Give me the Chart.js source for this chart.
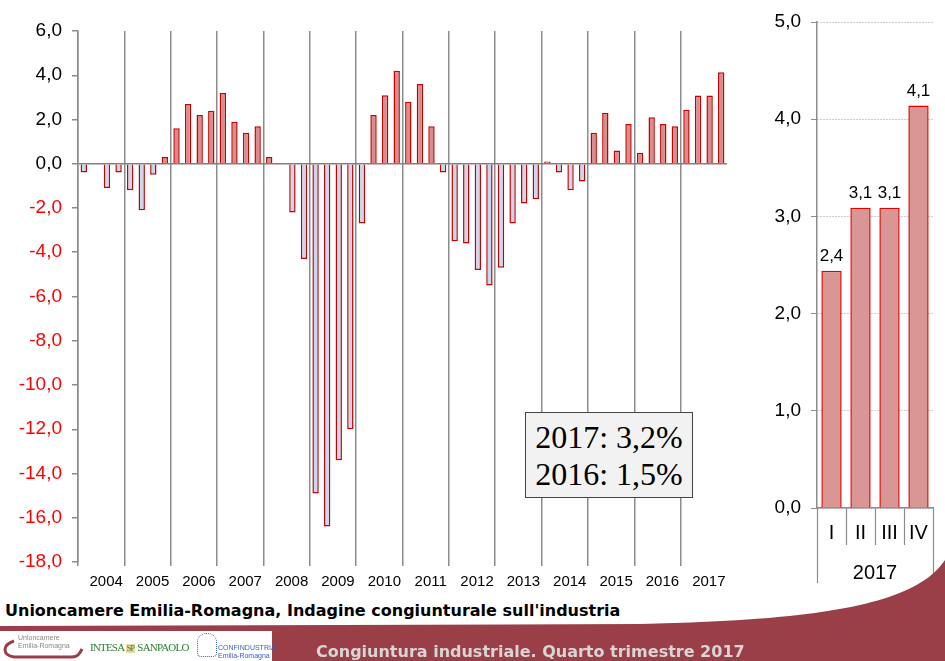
<!DOCTYPE html>
<html>
<head>
<meta charset="utf-8">
<script src="https://cdn.jsdelivr.net/npm/chart.js@4.4.0/dist/chart.umd.min.js"></script>
<style>
body { margin: 0; width: 945px; height: 661px; background: #fff; position: relative; overflow: hidden; font-family: Arial, "Liberation Sans", sans-serif; }
#trend { position: absolute; left: 0; top: 0; }
#quarters { position: absolute; left: 740px; top: 0; }
#avgBox { position: absolute; left: 525px; top: 412px; width: 168px; height: 86px; background: #f2f2f2; border: 1.5px solid #444;
  font-family: "Liberation Serif", "Times New Roman", serif; font-size: 32px; line-height: 37px; text-align: center; padding-top: 6px; box-sizing: border-box; color: #000; }
#source { position: absolute; left: 5px; top: 601px; font-family: "DejaVu Sans", Verdana, sans-serif; font-weight: bold; font-size: 16px; color: #000; white-space: nowrap; }
#band { position: absolute; left: 0; top: 0; }
#logos { position: absolute; left: 0; top: 631px; width: 272px; height: 30px; background: #fff; }
.logo { position: absolute; white-space: nowrap; }
#footerTitle { position: absolute; left: 316px; top: 642px; font-family: "DejaVu Sans", Verdana, sans-serif; font-weight: bold; font-size: 16px; color: #d6d6d6; white-space: nowrap; }
</style>
</head>
<body>
<canvas id="trend" width="740" height="600"></canvas>
<canvas id="quarters" width="205" height="600"></canvas>
<div id="avgBox">2017: 3,2%<br>2016: 1,5%</div>
<div id="source">Unioncamere Emilia-Romagna, Indagine congiunturale sull'industria</div>
<svg id="band" width="945" height="661">
  <path d="M0,626 L640,624 C820,620 915,605 945,560 L945,661 L0,661 Z" fill="#9a3f48"/>
</svg>
<div id="logos">
  <svg width="90" height="30" style="position:absolute;left:0;top:0">
    <path d="M14,10 C2,14 2,24 14,26 L72,26 C78,26 80,22 82,18" fill="none" stroke="#9a3f48" stroke-width="3"/>
  </svg>
  <div class="logo" style="left:18px;top:3px;font-size:7px;line-height:8px;color:#888">Unioncamere<br>Emilia-Romagna</div>
  <div class="logo" style="left:90px;top:10px;font-family:'Liberation Serif',serif;font-size:11px;color:#2e7d32;letter-spacing:-0.8px">INTESA <span style="background:#e8d9a0;color:#2e7d32;font-size:8px">&nbsp;SP&nbsp;</span> SANPAOLO</div>
  <div class="logo" style="left:197px;top:2px;width:18px;height:22px;border-radius:9px 9px 4px 4px;border:1px dotted #3a5fbf"></div>
  <div class="logo" style="left:218px;top:13px;font-size:7px;line-height:8px;color:#3a5fbf">CONFINDUSTRIA<br>Emilia-Romagna</div>
</div>
<div id="footerTitle">Congiuntura industriale. Quarto trimestre 2017</div>

<script>
// tendenza della produzione industriale, variazione % sullo stesso trimestre dell'anno precedente
const years = ['2004', '2005', '2006', '2007', '2008', '2009', '2010',
               '2011', '2012', '2013', '2014', '2015', '2016', '2017'];
const quarters = ['I', 'II', 'III', 'IV'];

const production = [
    -0.4, -0.05, -1.1, -0.4,    // 2004
    -1.2, -2.1, -0.5, 0.3,      // 2005
    1.6, 2.7, 2.2, 2.4,         // 2006
    3.2, 1.9, 1.4, 1.7,         // 2007
    0.3, -0.05, -2.2, -4.3,     // 2008
    -14.9, -16.4, -13.4, -12.0, // 2009
    -2.7, 2.2, 3.1, 4.2,        // 2010
    2.8, 3.6, 1.7, -0.4,        // 2011
    -3.5, -3.6, -4.8, -5.5,     // 2012
    -4.7, -2.7, -1.8, -1.6,     // 2013
    0.1, -0.4, -1.2, -0.8,      // 2014
    1.4, 2.3, 0.6, 1.8,         // 2015
    0.5, 2.1, 1.8, 1.7,         // 2016
    2.44, 3.09, 3.09, 4.14      // 2017
];
const production2017 = [2.44, 3.09, 3.09, 4.14];

const trendTicks = { min: -18, max: 6, step: 2 };
const quarterTicks = { min: 0, max: 5, step: 1 };

function formatIt(v) {
    return Number(v).toFixed(1).replace('.', ',');
}

const quarterLabels = [];
years.forEach(y => quarters.forEach(q => quarterLabels.push(q + ' ' + y)));

new Chart(document.getElementById('trend'), {
    type: 'bar',
    data: {
        labels: quarterLabels,
        datasets: [{
            data: production,
            backgroundColor: production.map(v => v < 0 ? '#c9d8ef' : '#d98c8c'),
            borderColor: '#c80000',
            borderWidth: 1.5,
            barPercentage: 0.55,
            categoryPercentage: 1
        }]
    },
    options: {
        responsive: false,
        animation: false,
        layout: { padding: { top: 31, right: 13, left: 0, bottom: 0 } },
        plugins: { legend: { display: false }, tooltip: { enabled: false } },
        scales: {
            x: {
                type: 'category',
                offset: true,
                ticks: { display: false },
                border: { display: false },
                grid: {
                    offset: true,
                    color: ctx => ctx.index % 4 === 0 ? '#8c8c8c' : 'transparent',
                    tickColor: ctx => ctx.index % 4 === 0 ? '#8c8c8c' : 'transparent',
                    lineWidth: 1.5,
                    tickLength: 4
                },
                afterFit: s => { s.height = 4; }
            },
            years: {
                axis: 'x',
                type: 'category',
                position: 'bottom',
                labels: years,
                offset: true,
                border: { display: false },
                grid: { display: false, drawTicks: false },
                ticks: {
                    padding: 7,
                    labelOffset: 5,
                    maxRotation: 0,
                    autoSkip: false,
                    color: '#000',
                    font: { family: '"Liberation Sans Narrow", "Arial Narrow", Arial', size: 15 }
                },
                afterFit: s => { s.height = 34; }
            },
            y: {
                min: trendTicks.min,
                max: trendTicks.max,
                border: { color: '#8c8c8c', width: 1.5 },
                grid: {
                    color: ctx => ctx.tick && ctx.tick.value === 0 ? '#808080' : 'transparent',
                    tickColor: '#8c8c8c',
                    lineWidth: 1.5,
                    tickLength: 6
                },
                ticks: {
                    stepSize: trendTicks.step,
                    padding: 10,
                    color: ctx => ctx.tick.value < 0 ? '#ff0000' : '#000',
                    font: { family: 'Arial, "Liberation Sans"', size: 19 },
                    callback: v => formatIt(v)
                },
                afterFit: s => { s.width = 78; }
            }
        }
    }
});

// etichette dei valori sopra le barre
const valueLabels = {
    id: 'valueLabels',
    afterDatasetsDraw(chart) {
        const ctx = chart.ctx;
        const meta = chart.getDatasetMeta(0);
        const values = chart.data.datasets[0].data;
        ctx.save();
        ctx.font = '17px Arial, "Liberation Sans"';
        ctx.fillStyle = '#000';
        ctx.textAlign = 'center';
        ctx.textBaseline = 'bottom';
        meta.data.forEach((bar, i) => {
            ctx.fillText(formatIt(values[i]), bar.x, bar.y - 6);
        });
        ctx.restore();
    }
};

new Chart(document.getElementById('quarters'), {
    type: 'bar',
    data: {
        labels: quarters,
        datasets: [{
            data: production2017,
            backgroundColor: '#d99694',
            borderColor: '#e00000',
            borderWidth: 1.5,
            barPercentage: 0.7,
            categoryPercentage: 1
        }]
    },
    plugins: [valueLabels],
    options: {
        responsive: false,
        animation: false,
        layout: { padding: { top: 22, right: 12, left: 0, bottom: 17 } },
        plugins: { legend: { display: false }, tooltip: { enabled: false } },
        scales: {
            x: {
                type: 'category',
                offset: true,
                border: { color: '#8c8c8c', width: 1.5 },
                grid: {
                    offset: true,
                    drawOnChartArea: false,
                    tickColor: '#8c8c8c',
                    tickLength: 37,
                    tickWidth: 1.2
                },
                ticks: {
                    padding: -24,
                    color: '#000',
                    font: { family: 'Arial, "Liberation Sans"', size: 20 }
                },
                afterFit: s => { s.height = 37; }
            },
            yr: {
                axis: 'x',
                type: 'category',
                position: 'bottom',
                labels: ['2017'],
                offset: true,
                border: { display: false },
                grid: {
                    offset: true,
                    drawOnChartArea: false,
                    tickColor: '#8c8c8c',
                    tickLength: 38,
                    tickWidth: 1.2
                },
                ticks: {
                    padding: -22,
                    color: '#000',
                    font: { family: 'Arial, "Liberation Sans"', size: 20 }
                },
                afterFit: s => { s.height = 38; }
            },
            y: {
                min: quarterTicks.min,
                max: quarterTicks.max,
                border: { color: '#8c8c8c', width: 1.5, dash: [1, 2] },
                grid: {
                    color: '#9a9a9a',
                    tickColor: '#8c8c8c',
                    tickLength: 6,
                    lineWidth: 1
                },
                ticks: {
                    stepSize: quarterTicks.step,
                    padding: 10,
                    color: '#000',
                    font: { family: 'Arial, "Liberation Sans"', size: 19 },
                    callback: v => formatIt(v)
                },
                afterFit: s => { s.width = 77; }
            }
        }
    }
});
</script>
</body>
</html>
